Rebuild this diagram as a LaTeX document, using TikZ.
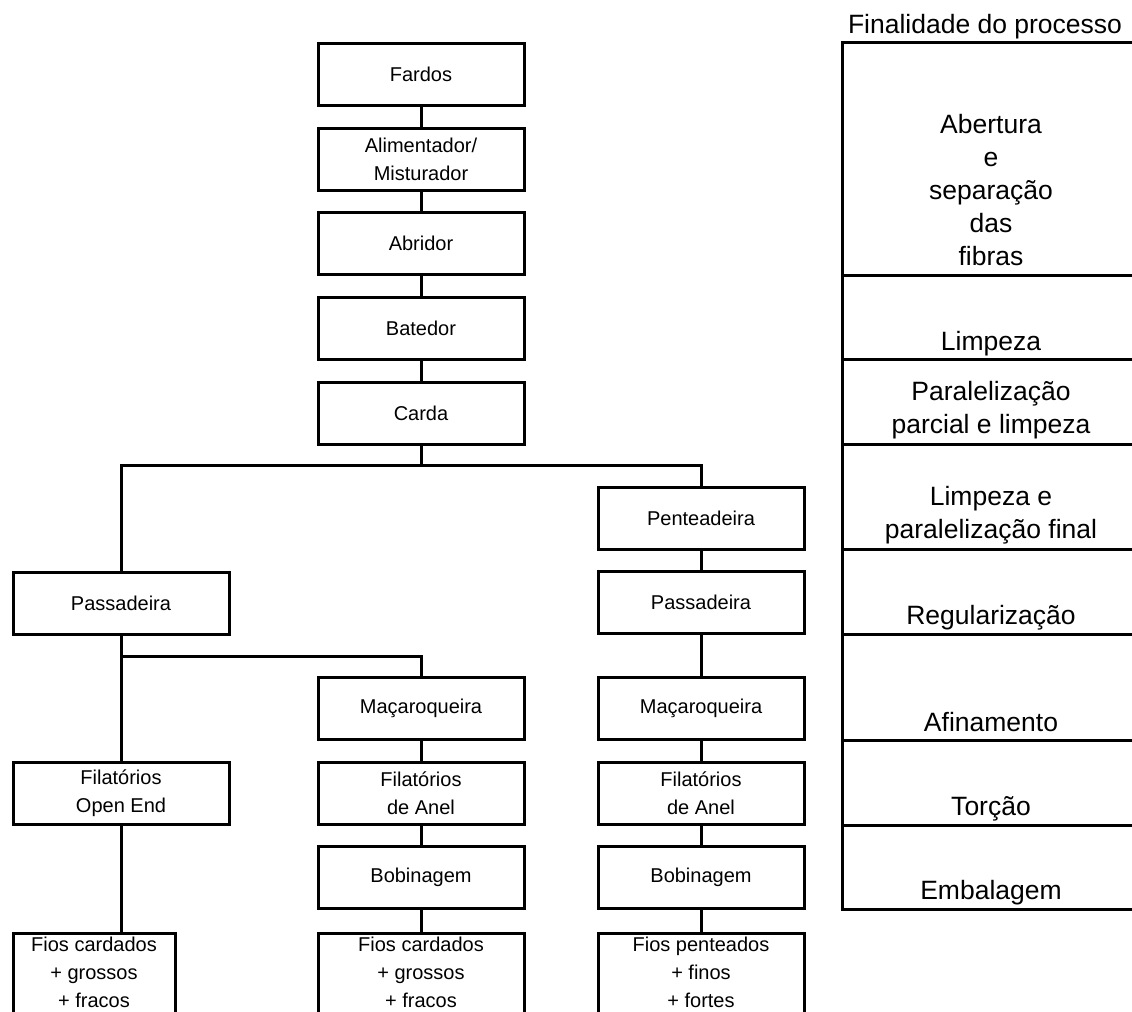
\documentclass[tikz,border=0pt]{standalone}
\usepackage{fontspec}
\setmainfont{Liberation Sans}

\begin{document}
\begin{tikzpicture}[x=0.5pt, y=-0.5pt, line width=1.5pt,
    box/.style={draw, rectangle, align=center, minimum width=103pt, minimum height=31pt, inner sep=2pt, font=\fontsize{10}{14}\selectfont},
    fios/.style={box, anchor=north, text depth=14pt},
    goal/.style={align=center, anchor=south, inner sep=0pt, text depth=0pt, font=\fontsize{13.25}{16.5}\selectfont}]
            \clip (0,0) rectangle (1132,1012);
            \node[box] (fardos) at (421,74.5) {Fardos};
            \node[box] (alim) at (421,159) {Alimentador/\\Misturador};
            \node[box] (abridor) at (421,243.5) {Abridor};
            \node[box] (batedor) at (421,328) {Batedor};
            \node[box] (carda) at (421,413) {Carda};

            \node[box, minimum width=108pt] (passA) at (121,603) {Passadeira};
            \node[box, minimum width=108pt] (openA) at (121,793.5) {Filatórios\\Open End};
            \node[fios, minimum width=81pt] (fiosA) at (94,932) {Fios cardados\\+ grossos\\+ fracos};

            \node[box] (macB) at (421,708.5) {Maçaroqueira};
            \node[box] (anelB) at (421,793.5) {Filatórios\\de Anel};
            \node[box] (bobB) at (421,877.5) {Bobinagem};
            \node[fios] (fiosB) at (421,932) {Fios cardados\\+ grossos\\+ fracos};

            \node[box] (pente) at (701,518) {Penteadeira};
            \node[box] (passC) at (701,602.5) {Passadeira};
            \node[box] (macC) at (701,708.5) {Maçaroqueira};
            \node[box] (anelC) at (701,793.5) {Filatórios\\de Anel};
            \node[box] (bobC) at (701,877.5) {Bobinagem};
            \node[fios] (fiosC) at (701,932) {Fios penteados\\+ finos\\+ fortes};

            \coordinate (split) at (421,465);
            \coordinate (splitA) at (121,656);
            \foreach \a/\b in {fardos/alim, alim/abridor, abridor/batedor, batedor/carda, passA/openA,
                    macB/anelB, anelB/bobB, bobB/fiosB, pente/passC, passC/macC, macC/anelC, anelC/bobC, bobC/fiosC}
                \draw (\a.south) -- (\b.north);
            \draw (carda.south) -- (split);
            \draw (passA.north) |- (split) -| (pente.north);
            \draw (splitA) -| (macB.north);
            \draw (openA.south) -- (openA.south |- fiosA.north);

            \node[anchor=base, inner sep=0pt, font=\fontsize{13.25}{16.5}\selectfont] (head) at (985,33) {Finalidade do processo};
            \draw (1140,42) -- (842,42) -- (842,909) -- (1140,909);
            \foreach \y in {275,359,444,549,634,740,825}
                \draw (842,\y) -- (1140,\y);
            \node[goal] (abert) at (991,267) {Abertura\\e\\separação\\das\\fibras};
            \node[goal] (limp) at (991,352) {Limpeza};
            \node[goal] (paral) at (991,435) {Paralelização\\parcial e limpeza};
            \node[goal] (limpf) at (991,540) {Limpeza e\\paralelização final};
            \node[goal] (regul) at (991,626) {Regularização};
            \node[goal] (afin) at (991,733) {Afinamento};
            \node[goal] (torc) at (991,817) {Torção};
            \node[goal] (emb) at (991,901) {Embalagem};
        \end{tikzpicture}
\end{document}
